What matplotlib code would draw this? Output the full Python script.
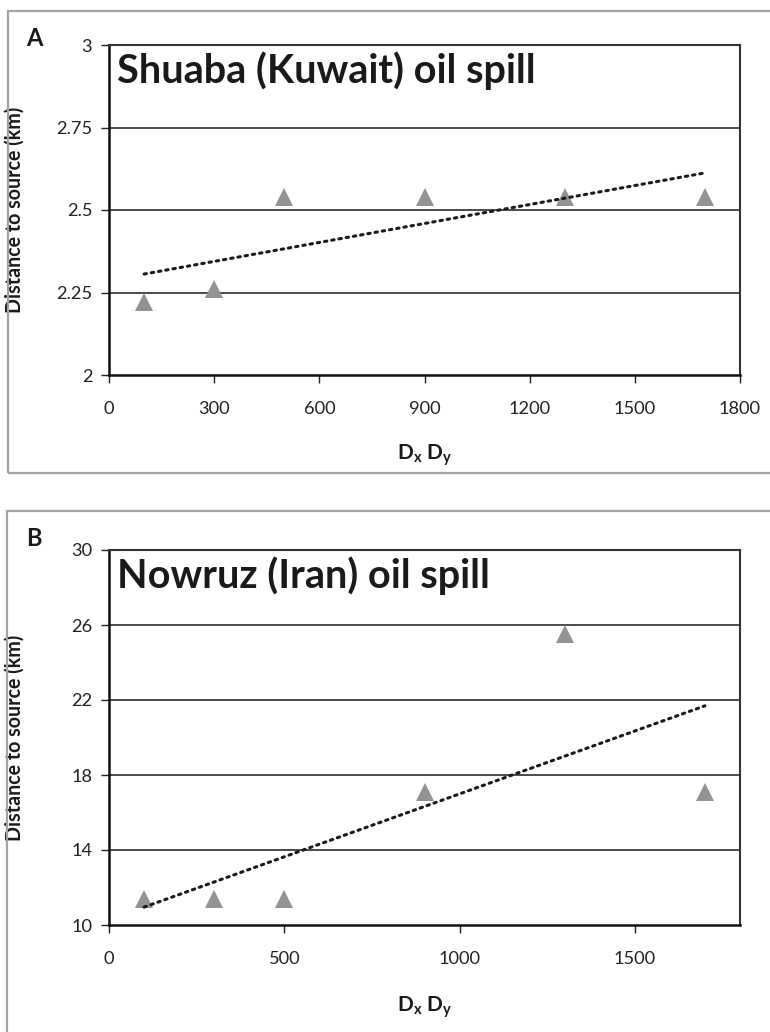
import numpy as np
import matplotlib
matplotlib.use("Agg")
import matplotlib.pyplot as plt
from matplotlib.patches import Rectangle

plt.rcParams['font.family'] = ['Lato', 'DejaVu Sans']
plt.rcParams['mathtext.fontset'] = 'custom'
plt.rcParams['mathtext.rm'] = 'Lato'
plt.rcParams['mathtext.bf'] = 'Lato:bold'
plt.rcParams['mathtext.it'] = 'Lato:italic'

# Data
dxdy = [100, 300, 500, 900, 1300, 1700]
dist_shuaba = [2.22, 2.26, 2.54, 2.54, 2.54, 2.54]
dist_nowruz = [11.4, 11.4, 11.4, 17.1, 25.5, 17.1]

titles = ["Shuaba (Kuwait) oil spill", "Nowruz (Iran) oil spill"]
letters = ["A", "B"]
xticks_a = [0, 300, 600, 900, 1200, 1500, 1800]
xticks_b = [0, 500, 1000, 1500]
yticks_a = [2, 2.25, 2.5, 2.75, 3]
ytick_labels_a = ["2", "2.25", "2.5", "2.75", "3"]
yticks_b = [10, 14, 18, 22, 26, 30]
ylabel = "Distance to source (km)"
xlabel = r"$\mathbf{D_x\ D_y}$"

W, H = 770, 1032
fig = plt.figure(figsize=(W / 100, H / 100), dpi=100)
renderer = fig.canvas.get_renderer()


def fx(px):
    return px / W


def fy(py):
    return 1 - py / H


def fitted_size(s, base, target_px, **kw):
    t = fig.text(0, 0, s, fontsize=base, **kw)
    bb = t.get_window_extent(renderer)
    t.remove()
    return base * target_px / bb.width


tick_fs = fitted_size("1800", 13, 42)
title_fs = fitted_size(titles[1], 23, 373, fontweight='bold')
ylabel_fs = fitted_size(ylabel, 12, 204, fontweight='bold')
xlabel_fs = 15

# gray panel borders
fig.patches.append(Rectangle((fx(8), fy(473)), fx(800), (473 - 11) / H,
                             transform=fig.transFigure, fill=False,
                             edgecolor='#a3a3a3', lw=1.6))
fig.patches.append(Rectangle((fx(7), fy(1060)), fx(800), (1060 - 511) / H,
                             transform=fig.transFigure, fill=False,
                             edgecolor='#a3a3a3', lw=1.6))

panels = [
    dict(top=45, bottom=375, y=dist_shuaba, xticks=xticks_a, yticks=yticks_a,
         ylabels=ytick_labels_a, ylim=(2, 3), letter_y=38, xlabel_y=455),
    dict(top=550, bottom=925, y=dist_nowruz, xticks=xticks_b, yticks=yticks_b,
         ylabels=[str(v) for v in yticks_b], ylim=(10, 30), letter_y=539,
         xlabel_y=1007),
]

for i, p in enumerate(panels):
    left, right = 109, 740
    ax = fig.add_axes([fx(left), fy(p['bottom']), (right - left) / W,
                       (p['bottom'] - p['top']) / H])
    ax.set_xlim(0, 1800)
    ax.set_ylim(*p['ylim'])
    ax.set_xticks(p['xticks'])
    ax.set_yticks(p['yticks'])
    ax.set_yticklabels(p['ylabels'])
    ax.tick_params(axis='both', direction='out', length=6, width=1,
                   color='#222222', labelsize=tick_fs, labelcolor='#222222')
    ax.tick_params(axis='x', pad=13)
    ax.tick_params(axis='y', pad=6)
    for v in p['yticks'][1:]:
        ax.axhline(v, color='#1a1a1a', lw=1.1, zorder=1)
    for s in ['left', 'bottom']:
        ax.spines[s].set_color('#111111')
        ax.spines[s].set_linewidth(1.8)
    for s in ['top', 'right']:
        ax.spines[s].set_color('#333333')
        ax.spines[s].set_linewidth(1.5)

    ax.plot(dxdy, p['y'], linestyle='none', marker='^', markersize=13.5,
            color='#939393', markeredgewidth=0, zorder=3)
    coef = np.polyfit(dxdy, p['y'], 1)
    xs = np.array([dxdy[0], dxdy[-1]])
    ax.plot(xs, np.polyval(coef, xs), linestyle=(0, (0.8, 1.6)), color='#1a1a1a',
            lw=2.2, zorder=4, dash_capstyle='round')

    ax.text(8 / (right - left), 1 - 38 / (p['bottom'] - p['top']), titles[i],
            transform=ax.transAxes, fontsize=title_fs, fontweight='bold',
            color='#1a1a1a', va='baseline', ha='left')

    ax.set_ylabel(ylabel, fontsize=ylabel_fs, fontweight='bold', color='#1a1a1a')
    ax.yaxis.set_label_coords((25 - left) / (right - left), 0.5)

    fig.text(fx(34), fy(p['letter_y']), letters[i], fontsize=17,
             fontweight='bold', color='#1a1a1a', ha='center', va='center')
    fig.text(fx(425), fy(p['xlabel_y']), xlabel, fontsize=xlabel_fs,
             color='#1a1a1a', ha='center', va='center')

fig.savefig("out.png", dpi=100)
